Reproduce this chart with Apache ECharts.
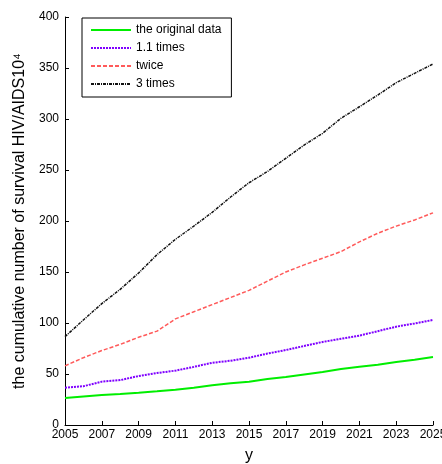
<!DOCTYPE html>
<html><head><meta charset="utf-8">
<script src="https://cdn.jsdelivr.net/npm/echarts@6/dist/echarts.min.js"></script>
<style>html,body{margin:0;padding:0;background:#fff}#c{width:442px;height:464px}</style>
</head><body><div id="c"></div>
<script>
const years = [2005,2006,2007,2008,2009,2010,2011,2012,2013,2014,2015,2016,2017,2018,2019,2020,2021,2022,2023,2024,2025];
const original = [26.5,28,29.4,30.5,31.7,33,34.6,36.5,39,41,42.5,45,47,49.5,52,55,57,59,61.8,64,66.7];
const times11 = [36.6,38,42.5,44,48,51,53.3,57,61,63,66,70,73.5,77.5,81.4,84.5,87.6,92,96.4,99.5,103];
const twice = [58,66,73,79,86,92,104,111,118,125,132,141,150,157,163.5,170,179.5,188,195,201,208];
const thrice = [86.6,103,119,133,149,167,182,195,208.5,223.5,237.5,248.5,261.5,274.5,286,300.7,312,323.5,335.6,344.8,353.9];
const seriesNames = ['the original data','1.1 times','twice','3 times'];
const yTicks = {min:0,max:400,interval:50};
const xTicks = {min:2005,max:2025,interval:2};

const pair = arr => years.map((y,i)=>[y,arr[i]]);
const font = 'Liberation Sans, Arial, sans-serif';
const chart = echarts.init(document.getElementById('c'));
const mk = (name, arr, color, type, width) => ({
  name, type:'line', data: pair(arr), symbol:'none', smooth:false,
  lineStyle:{color, type, width}, itemStyle:{color}, animation:false
});
chart.setOption({
  animation:false,
  grid:{left:65,right:9,top:17,bottom:39,containLabel:false,outerBoundsMode:'none'},
  legend:{
    orient:'vertical', left:82, top:18, padding:[6,10,7,8], itemGap:6,
    itemWidth:40, itemHeight:12,
    itemStyle:{opacity:0},
    borderColor:'#000', borderWidth:1, backgroundColor:'#fff',
    textStyle:{fontFamily:font,fontSize:12,color:'#000'},
    data: seriesNames
  },
  xAxis:{
    type:'value', min:xTicks.min, max:xTicks.max, interval:xTicks.interval,
    name:'y', nameLocation:'middle', nameGap:23, nameMoveOverlap:false,
    nameTextStyle:{fontFamily:font,fontSize:16,color:'#000'},
    axisLine:{lineStyle:{color:'#000',width:1}},
    axisTick:{inside:true,length:4,lineStyle:{color:'#000'}},
    axisLabel:{fontFamily:font,fontSize:12,color:'#000',margin:4,formatter:v=>String(v)},
    splitLine:{show:false}
  },
  yAxis:{
    type:'value', min:yTicks.min, max:yTicks.max, interval:yTicks.interval,
    name:'the cumulative number of survival HIV/AIDS10\u2074', nameLocation:'middle', nameGap:37, nameMoveOverlap:false,
    nameTextStyle:{fontFamily:font,fontSize:16,color:'#000'},
    axisLine:{show:true,lineStyle:{color:'#000',width:1}},
    axisTick:{show:true,inside:true,length:4,lineStyle:{color:'#000'}},
    axisLabel:{fontFamily:font,fontSize:12,color:'#000',margin:6},
    splitLine:{show:false}
  },
  series:[
    mk(seriesNames[0], original, '#00ee00', 'solid', 2),
    mk(seriesNames[1], times11, '#7f00ff', [2,1], 2),
    mk(seriesNames[2], twice, '#ff5a5a', [4,2], 1.5),
    mk(seriesNames[3], thrice, '#111111', [3,1,1,1], 1.5)
  ]
});
</script></body></html>
